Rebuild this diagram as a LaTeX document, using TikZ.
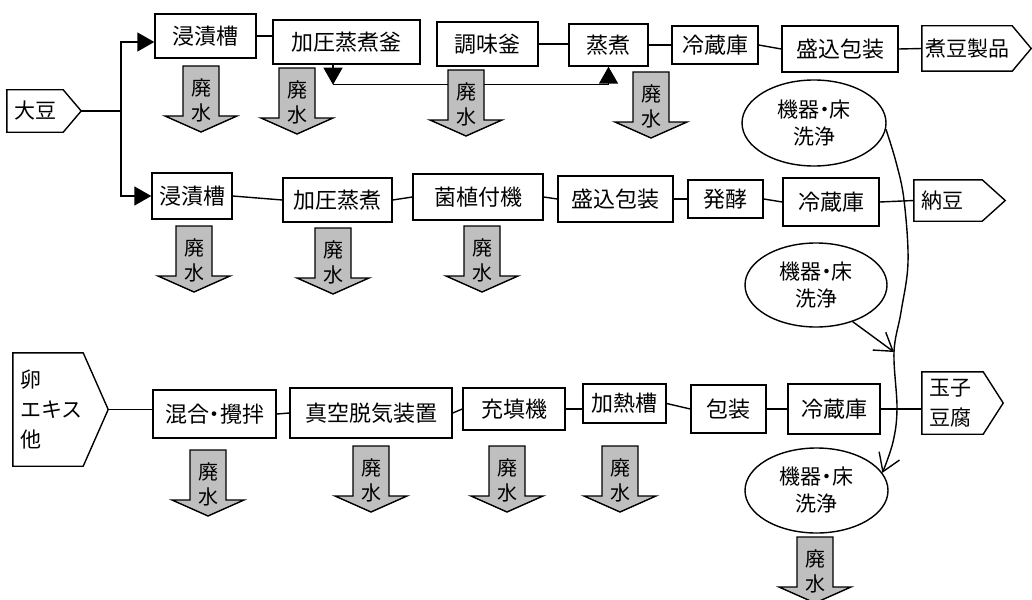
\documentclass[tikz,border=0pt]{standalone}
\usepackage{fontspec}
\setmainfont{Noto Sans CJK JP}
\newfontfamily\pfont[RawFeature=+palt]{Noto Sans CJK JP}
\usetikzlibrary{arrows.meta,shapes.geometric,calc}
\definecolor{wgray}{RGB}{191,191,191}
\newcommand{\fsbox}{\fontsize{22}{26}\selectfont}
\newcommand{\fsell}{\pfont\fontsize{21}{27}\selectfont}
\newcommand{\fswaste}{\fontsize{20}{25}\selectfont}
\newcommand{\fspent}{\fontsize{21}{30}\selectfont}
\tikzset{
  bx/.style 2 args={draw, line width=1.4pt, inner sep=0pt, font=\fsbox, minimum width=#1pt, minimum height=#2pt},
  pent/.style={inner xsep=7pt, inner ysep=0pt, align=left, font=\fspent},
  outline/.style={draw, line width=1.4pt, line join=miter},
  ell/.style={draw, ellipse, line width=1.4pt, inner sep=0pt, align=center, font=\fsell},
  ln/.style={draw, line width=1.4pt},
  tri/.style={draw, line width=1.4pt, -{Triangle[length=17pt,width=19pt]}},
  barb/.style={draw, line width=1.4pt, -{Straight Barb[length=17pt,width=22pt]}},
  wastearr/.style={fill=wgray, draw=black, line width=1.4pt, line join=miter},
  wastetext/.style={inner sep=0pt, align=center, font=\fswaste},
}
\newcommand{\wastearrow}[3]{%
  \filldraw[wastearr] ({#2-18},{#3}) -- ({#2+18},{#3}) -- ({#2+18},{#3+50}) -- ({#2+36},{#3+50}) -- ({#2},{#3+66}) -- ({#2-36},{#3+50}) -- ({#2-18},{#3+50}) -- cycle;
  \node[wastetext] (#1) at ({#2},{#3+34.5}) {廃\\水};}
\newcommand{\pentagon}[2]{%
  \draw[outline] (#1.north west) -- (#1.north east) -- ($(#1.east)+(#2,0)$) -- (#1.south east) -- (#1.south west) -- cycle;
  \coordinate (#1tip) at ($(#1.east)+(#2,0)$);}
\begin{document}
\begin{tikzpicture}[x=1pt,y=-1pt]
\useasboundingbox (0,0) rectangle (1032,599);
\fill[white] (0,0) rectangle (1032,599);

% pentagon nodes (sources and products)
\node[pent, text width=42pt, minimum height=42pt] (soy) at (35,111) {大豆};
\pentagon{soy}{18}
\node[pent, inner xsep=3pt, text width=84pt, minimum height=45pt] (nimame) at (967,48.5) {煮豆製品};
\pentagon{nimame}{19}
\node[pent, text width=54pt, minimum height=41pt] (natto) at (948,200.5) {納豆};
\pentagon{natto}{23}
\node[pent, text width=56pt, minimum height=113pt] (egg) at (48,409.5) {卵\\エキス\\他};
\pentagon{egg}{25}
\node[pent, text width=47pt, minimum height=62pt] (tamago) at (952.5,403) {玉子\\豆腐};
\pentagon{tamago}{20}

% row 1
\node[bx={101}{44}] (A1) at (205.5,36) {浸漬槽};
\node[bx={147}{44}] (A2) at (346.5,42) {加圧蒸煮釜};
\node[bx={101}{44}] (A3) at (487.5,44) {調味釜};
\node[bx={79}{42}] (A4) at (608.5,45) {蒸煮};
\node[bx={86}{38}] (A5) at (715,45) {冷蔵庫};
\node[bx={116}{46}] (A6) at (840,49) {盛込包装};

% row 2
\node[bx={80}{46}] (B1) at (192,196) {浸漬槽};
\node[bx={109}{44}] (B2) at (337.5,200) {加圧蒸煮};
\node[bx={130}{46}] (B3) at (478,197) {菌植付機};
\node[bx={115}{46}] (B4) at (615.5,199) {盛込包装};
\node[bx={75}{38}] (B5) at (725.5,199) {発酵};
\node[bx={96}{48}] (B6) at (831,202) {冷蔵庫};

% row 3
\node[bx={123}{48}, font=\pfont\fsbox] (C1) at (214.5,414) {混合・攪拌};
\node[bx={162}{50}] (C2) at (371,413) {真空脱気装置};
\node[bx={102}{42}] (C3) at (514,409) {充填機};
\node[bx={83}{39}] (C4) at (624.5,403.5) {加熱槽};
\node[bx={75}{48}] (C5) at (728.5,409) {包装};
\node[bx={92}{50}] (C6) at (834,409) {冷蔵庫};

% cleaning ellipses
\node[ell, minimum width=144pt, minimum height=86pt] (E1) at (814,123) {機器・床\\洗浄};
\node[ell, minimum width=142pt, minimum height=84pt] (E2) at (816,285) {機器・床\\洗浄};
\node[ell, minimum width=143pt, minimum height=85pt] (E3) at (816.5,490.5) {機器・床\\洗浄};

% connectors
\coordinate (j) at (121,111);
\draw[ln] (soytip) -- (j);
\draw[tri] (j) |- ([yshift=-6pt]A1.west);
\draw[tri] (j) |- (B1.west);
\draw[ln] (A1.east) -- (A1.east -| A2.west);
\draw[tri] ([xshift=-13.5pt]A2.south) -- ++(0,20) coordinate (k);
\draw[tri] (k) -| (A4.south);
\draw[ln] (A3.east) -- (A3.east -| A4.west);
\draw[ln] (A4.east) -- (A5.west);
\draw[ln] (A5.east) -- (A6.west);
\draw[ln] (A6.east) -- (nimame.west);

\draw[ln] (B1.east) -- (B2.west);
\draw[ln] (B2.east) -- (B3.west);
\draw[ln] (B3.east) -- (B4.west);
\draw[ln] (B4.east) -- (B5.west);
\draw[ln] (B5.east) -- (B6.west);
\draw[ln] (B6.east) -- (natto.west);

\draw[ln] (eggtip) -- (eggtip -| C1.west);
\draw[ln] (C1.east) -- (C2.west);
\draw[ln] (C2.east) -- (C3.west);
\draw[ln] (C3.east) -- (C3.east -| C4.west);
\draw[ln] (C4.east) -- (C5.west);
\draw[ln] (C5.east) -- (C6.west);
\draw[ln] (C6.east) -- (C6.east -| tamago.west);

\coordinate (mj) at (894,352);
\draw[barb] plot[smooth, tension=0.6] coordinates {(E1.-5) (896,162) (904,200) (908,262) (901,312) (mj) (897,408) (893,442) (E3.15)};
\draw[barb] (E2.-45) -- (mj);

% waste water arrows
\wastearrow{w1}{201}{66}
\wastearrow{w2}{297}{68}
\wastearrow{w3}{466}{70}
\wastearrow{w4}{651}{72}
\wastearrow{w5}{194}{226}
\wastearrow{w6}{333}{228}
\wastearrow{w7}{482}{226}
\wastearrow{w8}{208}{450}
\wastearrow{w9}{371}{446}
\wastearrow{w10}{507}{446}
\wastearrow{w11}{620}{446}
\wastearrow{w12}{815}{537}
\end{tikzpicture}
\end{document}
